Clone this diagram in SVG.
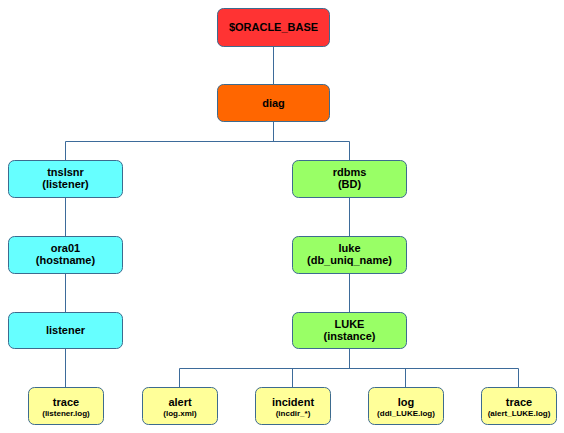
<svg xmlns="http://www.w3.org/2000/svg" width="564" height="433" viewBox="0 0 564 433">
<style>
.box{stroke:#3d6b8f;stroke-width:1}
.red{fill:#ff3333}.orange{fill:#ff6600}.cyan{fill:#66ffff}.green{fill:#99ff66}.yellow{fill:#ffff99}
text{font-family:"Liberation Sans",Arial,sans-serif;font-weight:bold;fill:#000;text-anchor:middle}
.t{font-size:11px}
.s{font-size:8px}
#connectors path{fill:none;stroke:#3d6b9a;stroke-width:1}
</style>
<rect width="564" height="433" fill="#ffffff"/>
<g id="connectors">
<path d="M273.5,47 V85"/>
<path d="M273.5,122 V141.5 M65.5,141.5 H349.5 M65.5,141.5 V160 M349.5,141.5 V160"/>
<path d="M65.5,198 V236 M65.5,274 V312 M65.5,349 V387"/>
<path d="M349.5,198 V236 M349.5,274 V312 M349.5,349 V368.5"/>
<path d="M179.5,368.5 H518.5 M179.5,368.5 V387 M292.5,368.5 V387 M405.5,368.5 V387 M518.5,368.5 V387"/>
</g>
<g id="oracle_base"><rect class="box red" x="217.5" y="8.5" width="112" height="38" rx="6"/><text class="t" x="273.5" y="31">$ORACLE_BASE</text></g>
<g id="diag"><rect class="box orange" x="217.5" y="84.5" width="112" height="37" rx="6"/><text class="t" x="273.5" y="107">diag</text></g>
<g id="tnslsnr"><rect class="box cyan" x="8.5" y="160.5" width="114" height="37" rx="6"/><text class="t" x="65.5" y="176">tnslsnr</text><text class="t" x="65.5" y="188">(listener)</text></g>
<g id="ora01"><rect class="box cyan" x="8.5" y="236.5" width="114" height="37" rx="6"/><text class="t" x="65.5" y="252">ora01</text><text class="t" x="65.5" y="264">(hostname)</text></g>
<g id="listener"><rect class="box cyan" x="8.5" y="312.5" width="114" height="36" rx="6"/><text class="t" x="65.5" y="334">listener</text></g>
<g id="rdbms"><rect class="box green" x="292.5" y="160.5" width="114" height="37" rx="6"/><text class="t" x="349.5" y="176">rdbms</text><text class="t" x="349.5" y="188">(BD)</text></g>
<g id="luke"><rect class="box green" x="292.5" y="236.5" width="114" height="37" rx="6"/><text class="t" x="349.5" y="252">luke</text><text class="t" x="349.5" y="264">(db_uniq_name)</text></g>
<g id="LUKE"><rect class="box green" x="292.5" y="312.5" width="114" height="36" rx="6"/><text class="t" x="349.5" y="328">LUKE</text><text class="t" x="349.5" y="340">(instance)</text></g>
<g id="trace1"><rect class="box yellow" x="28.5" y="387.5" width="75" height="37" rx="6"/><text class="t" x="66" y="406">trace</text><text class="s" x="66" y="416">(listener.log)</text></g>
<g id="alert"><rect class="box yellow" x="142.5" y="387.5" width="75" height="37" rx="6"/><text class="t" x="180" y="406">alert</text><text class="s" x="180" y="416">(log.xml)</text></g>
<g id="incident"><rect class="box yellow" x="255.5" y="387.5" width="75" height="37" rx="6"/><text class="t" x="293" y="406">incident</text><text class="s" x="293" y="416">(incdir_*)</text></g>
<g id="log"><rect class="box yellow" x="368.5" y="387.5" width="75" height="37" rx="6"/><text class="t" x="406" y="406">log</text><text class="s" x="406" y="416">(ddl_LUKE.log)</text></g>
<g id="trace2"><rect class="box yellow" x="481.5" y="387.5" width="75" height="37" rx="6"/><text class="t" x="519" y="406">trace</text><text class="s" x="519" y="416">(alert_LUKE.log)</text></g>
</svg>
